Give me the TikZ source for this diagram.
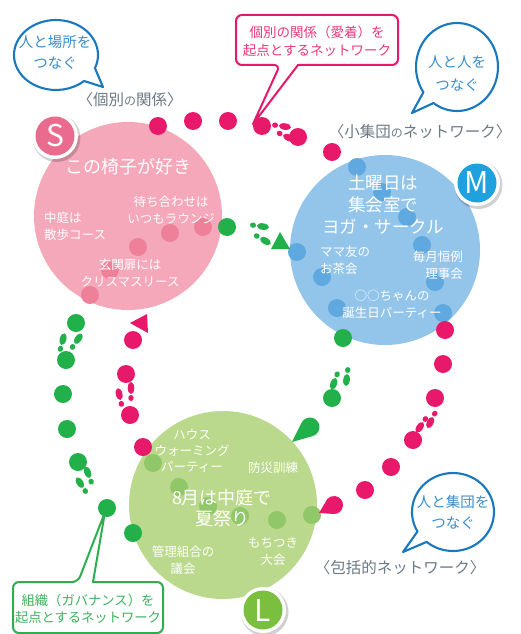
\documentclass[tikz,border=0pt]{standalone}
\usepackage{fontspec}
\newfontfamily\jp{Noto Sans CJK JP}
\definecolor{mag}{HTML}{E8196B}
\definecolor{grn}{HTML}{22B04B}
\definecolor{cpink}{HTML}{F5A8BA}
\definecolor{cblue}{HTML}{93C5EB}
\definecolor{cgreen}{HTML}{BAD98C}
\definecolor{ipink}{HTML}{EE8199}
\definecolor{iblue}{HTML}{5FA9E0}
\definecolor{igreen}{HTML}{90C768}
\definecolor{bS}{HTML}{EB6B8F}
\definecolor{bM}{HTML}{1EA1DE}
\definecolor{bL}{HTML}{7BBF3F}
\definecolor{bubline}{HTML}{1978BE}
\definecolor{bubtext}{HTML}{3A8DCA}
\definecolor{graylab}{HTML}{6C7A84}
\definecolor{pinkbox}{HTML}{E5186B}
\definecolor{pinktext}{HTML}{E8397A}
\definecolor{grnbox}{HTML}{2EAE4F}
\definecolor{grntext}{HTML}{3BB25C}
\tikzset{
  foot/.pic={
    \fill (4,0) ellipse [x radius=6, y radius=3.3];
    \fill (-6,0) ellipse [x radius=3, y radius=2.7];
  },
  wtxt/.style={text=white, inner sep=0pt, align=center},
  small/.style={font=\jp\fontsize{12.5}{17}\selectfont},
  big/.style={font=\jp\fontsize{17.5}{22}\selectfont},
  bub/.style={draw=bubline, line width=2.1pt, fill=white, line join=round},
  bubtxt/.style={text=bubtext, inner sep=0pt, align=center, font=\jp\fontsize{14.5}{21}\selectfont},
  lab/.style={text=graylab, inner sep=0pt, font=\jp\fontsize{15.5}{18}\selectfont},
  badge/.style={text=white, inner sep=0pt, font=\jp\fontsize{30}{30}\selectfont},
}
\newcommand{\smallno}{\fontsize{12}{12}\selectfont の}
\begin{document}
\begin{tikzpicture}[x=1pt,y=-1pt]
\useasboundingbox (0,0) rectangle (520,634);
\fill[white] (0,0) rectangle (520,634);

% ---------- big circles ----------
\node[circle, fill=cpink, minimum size=188pt, inner sep=0pt] (S) at (128,216) {};
\node[circle, fill=cblue, minimum size=190pt, inner sep=0pt] (M) at (385,250) {};
\node[circle, fill=cgreen, minimum size=188pt, inner sep=0pt] (L) at (223,505) {};

% inner dots
\foreach \p in {(90,295),(110,270),(138,247),(170,233),(203,227)}
  \fill[ipink] \p circle[radius=9];
\foreach \p in {(357,167),(382,192),(407,217),(422,245),(435,282),(443,313),(297,252),(322,277),(337,308)}
  \fill[iblue] \p circle[radius=9];
\foreach \p in {(153,463),(179,487),(208,506),(240,516),(277,520),(312,515)}
  \fill[igreen] \p circle[radius=9];

% ---------- texts in circles ----------
\node[wtxt, font=\jp\fontsize{18}{22}\selectfont] (s1) at (128,167) {この椅子が好き};
\node[wtxt, small] (s2) at (171,210) {待ち合わせは\\いつもラウンジ};
\node[wtxt, small, align=left, anchor=west] (s3) at (44,226.5) {中庭は\\散歩コース};
\node[wtxt, small] (s4) at (130,273.5) {玄関扉には\\クリスマスリース};

\node[wtxt, big] (m1) at (383,205) {土曜日は\\集会室で\\ヨガ・サークル};
\node[wtxt, small, align=left, anchor=west] (m2) at (320,260.5) {ママ友の\\お茶会};
\node[wtxt, small, align=right, anchor=east] (m3) at (463,265) {毎月恒例\\理事会};
\node[wtxt, small] (m4) at (392,304) {○○ちゃんの\\誕生日パーティー};

\node[wtxt, font=\jp\fontsize{12.5}{16}\selectfont] (l1) at (192,451) {ハウス\\ウォーミング\\パーティー};
\node[wtxt, small] (l2) at (273,468) {防災訓練};
\node[wtxt, font=\jp\fontsize{18}{21}\selectfont] (l3) at (222,508.5) {8月は中庭で\\夏祭り};
\node[wtxt, small] (l4) at (183,560) {管理組合の\\議会};
\node[wtxt, small] (l5) at (273,551.5) {もちつき\\大会};

% ---------- callouts ----------
\draw[draw=pinkbox, line width=2pt, fill=white, line join=round]
  [rounded corners=6pt] (398,40) -- (398,15) -- (236,15) -- (236,65) -- (280,65)
  [sharp corners] -- (253,124) -- (298,65)
  [rounded corners=6pt] -- (398,65) -- cycle;
\node[text=pinktext, inner sep=0pt, align=center, font=\jp\fontsize{13.5}{18}\selectfont] (pc) at (317,41)
  {個別の関係（愛着）を\\起点とするネットワーク};

\draw[draw=grnbox, line width=2pt, fill=white, line join=round]
  [rounded corners=6pt] (163,600) -- (163,633) -- (13,633) -- (13,582) -- (78,582)
  [sharp corners] -- (105,512) -- (93,582)
  [rounded corners=6pt] -- (163,582) -- cycle;
\node[text=grntext, inner sep=0pt, align=center, font=\jp\fontsize{13.3}{16.5}\selectfont] (gc) at (88,609)
  {組織（ガバナンス）を\\起点とするネットワーク};

% speech bubbles
\draw[bub] (103,87) -- ([shift={(56,55)}]22:42 and 35)
  arc[start angle=22, end angle=-312, x radius=42, y radius=35] -- cycle;
\node[bubtxt] (b1) at (55,52) {人と場所を\\つなぐ};

\draw[bub] (412,113) -- ([shift={(457,67)}]145:41 and 44)
  arc[start angle=145, end angle=485, x radius=41, y radius=44] -- cycle;
\node[bubtxt, font=\jp\fontsize{14.5}{23}\selectfont] (b2) at (457,73.5) {人と人を\\つなぐ};

\draw[bub] (403,552) -- ([shift={(453,512)}]150:41 and 39)
  arc[start angle=150, end angle=490, x radius=41, y radius=39] -- cycle;
\node[bubtxt] (b3) at (453,512.5) {人と集団を\\つなぐ};

% gray labels
\node[lab] (t1) at (130,100) {〈個別{\smallno}関係〉};
\node[lab] (t2) at (420,132) {〈小集団{\smallno}ネットワーク〉};
\node[lab] (t3) at (400,568) {〈包括的ネットワーク〉};

% ---------- pink path ----------
\foreach \p in {(158,126),(193,121),(228,121),(262,126),(298,137),(332,152),
                (445,330),(443,364),(435,398),(413,440),(391,467),(365,490),
                (143,447),(130,415),(126,374),(133,340)}
  \fill[mag] \p circle[radius=9];
\pic[color=mag, rotate=-8] at (281,126) {foot};
\pic[color=mag, rotate=-25] at (285,136) {foot};
\pic[color=mag, rotate=-124] at (422,424) {foot};
\pic[color=mag, rotate=-117] at (432,419) {foot};
\pic[color=mag, rotate=103] at (120,398) {foot};
\pic[color=mag, rotate=90] at (131,392) {foot};
\fill[mag] (130,323) -- (147,314) -- (148,333) -- cycle;
\fill[mag] (319,513) -- ([shift={(334,505)}]97:9) arc[start angle=97, end angle=-137, radius=9] -- cycle;

% ---------- green path ----------
\foreach \p in {(227,227),(343,338),(332,398),(133,533),(107,508),(78,462),(67,429),(63,394),(66,360),(76,323)}
  \fill[grn] \p circle[radius=9];
\pic[color=grn, rotate=-8] at (259,226) {foot};
\pic[color=grn, rotate=-30] at (262,239) {foot};
\pic[color=grn, rotate=-110] at (335,380) {foot};
\pic[color=grn, rotate=-97] at (347,376) {foot};
\pic[color=grn, rotate=111] at (89,476) {foot};
\pic[color=grn, rotate=123] at (82,486) {foot};
\pic[color=grn, rotate=75] at (62,343) {foot};
\pic[color=grn, rotate=55] at (76,342) {foot};
\fill[grn] (280,232) -- (290,249) -- (271,249) -- cycle;
\fill[grn] (292,442) -- ([shift={(310,427)}]72.8:9.5) arc[start angle=72.8, end angle=-152.4, radius=9.5] -- cycle;

% ---------- badges ----------
\foreach \c/\x/\y/\t/\n in {bS/55/136/S/bs, bM/477/183/M/bm, bL/263/610/L/bl}{
  \fill[black, opacity=.18] (\x+1.5,\y+2) circle[radius=24];
  \fill[white] (\x,\y) circle[radius=23];
  \fill[\c] (\x,\y) circle[radius=19.5];
  \node[badge] (\n) at (\x,\y) {\t};
}
\end{tikzpicture}
\end{document}
